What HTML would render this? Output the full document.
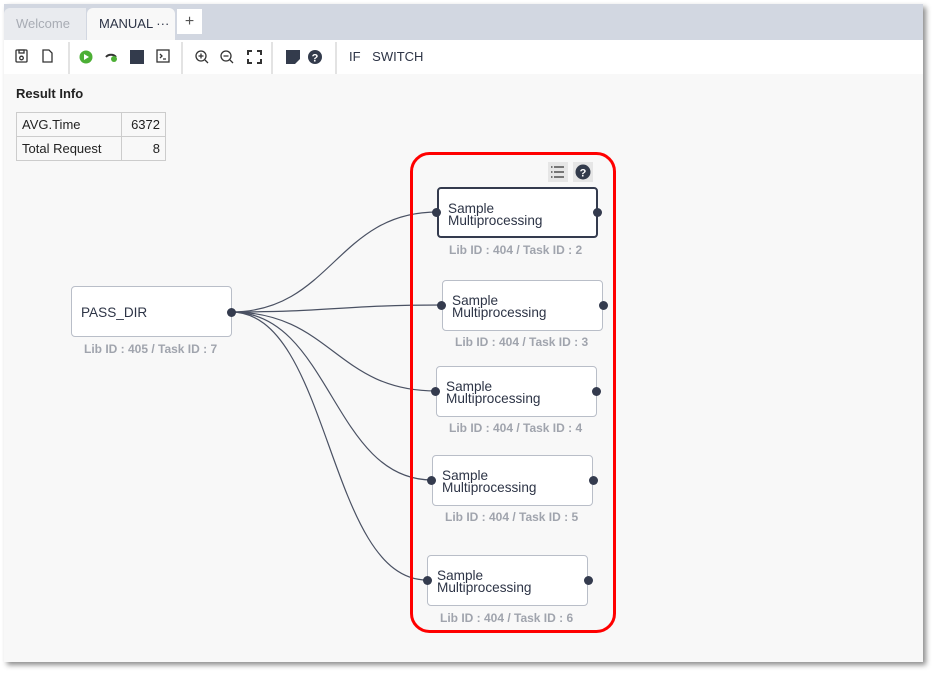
<!DOCTYPE html>
<html><head><meta charset="utf-8"><style>
*{margin:0;padding:0;box-sizing:border-box}
body{width:936px;height:675px;background:#fff;font-family:"Liberation Sans",sans-serif;position:relative;overflow:hidden}
.panel{position:absolute;left:4px;top:4px;width:919px;height:658px;background:#f8f8f8;box-shadow:3px 3px 5px rgba(0,0,0,.45)}
.tabbar{position:absolute;left:0;top:0;width:919px;height:36px;background:#d2d7e1}
.tab{position:absolute;top:4px;height:32px;font-size:13px;line-height:32px}
.toolbar{position:absolute;left:0;top:36px;width:919px;height:34px;background:#fff}
.sep{position:absolute;top:2px;width:2px;height:32px;background:#e3e3e3}
.abs{position:absolute}
.node{position:absolute;width:161px;height:51px;background:#fff;border:1px solid #b9bec8;border-radius:4px;font-size:13.6px;color:#2d3446;line-height:12px}
.lbl{position:absolute;font-size:12px;color:#a0a4ad;font-weight:bold;white-space:nowrap}
.port{position:absolute;width:9px;height:9px;border-radius:50%;background:#343b4e}
table{border-collapse:collapse;font-size:13px;color:#222}
td{border:1px solid #ccc;padding:0 5px;height:24px}
</style></head><body>
<div class="panel">
 <div class="tabbar">
  <div class="tab" style="left:0;width:82px;background:#e9ebef;color:#a8acb4;padding-left:12px;border-radius:6px 0 0 0">Welcome</div>
  <div class="tab" style="left:83px;width:88px;background:#f8f8f8;color:#2d3446;padding-left:12px;border-radius:6px 6px 0 0">MANUAL ···</div>
  <div class="tab" style="left:173px;top:5px;width:25px;height:25px;background:#fff;text-align:center;line-height:25px;color:#555;font-size:16px">+</div>
 </div>
 <div class="toolbar">
  <svg class="abs" style="left:0;top:0" width="440" height="34">
   <g fill="none" stroke="#333" stroke-width="1.3">
    <rect x="12" y="10" width="11" height="12" rx="1"/><rect x="15" y="10" width="5" height="3"/><circle cx="17.5" cy="18" r="1.8"/>
    <path d="M39 10h6l3 3v9h-9z"/>
    <circle cx="197" cy="16" r="5"/><path d="M201 20l3 3M194.5 16h5M197 13.5v5"/>
    <circle cx="222" cy="16" r="5"/><path d="M226 20l3 3M219.5 16h5"/>
    <path d="M244 15v-4h4M253 11h4v4M257 19v4h-4M248 23h-4v-4" stroke-width="2"/>
    <rect x="153" y="10" width="12" height="12"/><path d="M156 14l2 2-2 2M159 19h3"/>
   </g>
   <circle cx="82" cy="17" r="6.5" fill="#4caf35"/><path d="M80 14v6l5-3z" fill="#fff"/>
   <path d="M102 17a6 5 0 0 1 10 0" fill="none" stroke="#333" stroke-width="2"/><circle cx="110" cy="19" r="3" fill="#4caf35"/>
   <rect x="126" y="10" width="14" height="14" fill="#333b4c"/>
   <path d="M282 10h14v9l-5 5h-9z" fill="#333b4c"/>
   <circle cx="311" cy="17" r="7" fill="#333b4c"/><text x="311" y="21.5" font-size="11" font-weight="bold" fill="#fff" text-anchor="middle" font-family="Liberation Sans">?</text>
  </svg>
  <div class="sep" style="left:64px"></div><div class="sep" style="left:177px"></div><div class="sep" style="left:267px"></div><div class="sep" style="left:331px"></div>
  <div class="abs" style="left:345px;top:9px;font-size:13px;color:#2d3446;word-spacing:8px">IF SWITCH</div>
 </div>
 <div class="abs" style="left:12px;top:82px;font-size:13px;font-weight:bold;color:#222">Result Info</div>
 <table class="abs" style="left:12px;top:108px">
  <tr><td style="width:105px">AVG.Time</td><td style="width:44px;text-align:right">6372</td></tr>
  <tr><td>Total Request</td><td style="text-align:right">8</td></tr>
 </table>
</div>
<svg class="abs" style="left:0;top:0" width="936" height="675">
 <g fill="none" stroke="#4a5163" stroke-width="1.2">
  <path d="M231 312C331 312 337 212 437 212"/>
  <path d="M231 312C331 312 342 305 442 305"/>
  <path d="M231 312C331 312 336 391 436 391"/>
  <path d="M231 312C331 312 332 480 432 480"/>
  <path d="M231 312C331 312 327 580 427 580"/>
 </g>
 <rect x="411.5" y="153.5" width="203" height="478" rx="18" fill="none" stroke="#f00" stroke-width="3"/>
 <rect x="548" y="162" width="20" height="20" fill="#e6e6e6"/>
 <g stroke="#333" stroke-width="1.3"><path d="M554 167h10M554 172h10M554 177h10"/><path d="M551 167h1.5M551 172h1.5M551 177h1.5"/></g>
 <rect x="573" y="162" width="20" height="20" fill="#e6e6e6"/>
 <circle cx="583" cy="172" r="7.5" fill="#333b4c"/><text x="583" y="176.5" font-size="11" font-weight="bold" fill="#fff" text-anchor="middle" font-family="Liberation Sans">?</text>
</svg>
<div class="node" style="left:71px;top:286px;height:51px"><div class="abs" style="left:9px;top:20px">PASS_DIR</div></div>
<div class="port" style="left:227px;top:308px"></div>
<div class="lbl" style="left:84px;top:342px">Lib ID : 405 / Task ID : 7</div>

<div class="node" style="left:437px;top:187px;border:2px solid #343b4e"><div class="abs" style="left:9px;top:14px">Sample<br>Multiprocessing</div></div>
<div class="port" style="left:432px;top:208px"></div><div class="port" style="left:593px;top:208px"></div>
<div class="lbl" style="left:449px;top:243px">Lib ID : 404 / Task ID : 2</div>

<div class="node" style="left:442px;top:280px"><div class="abs" style="left:9px;top:14px">Sample<br>Multiprocessing</div></div>
<div class="port" style="left:437px;top:301px"></div><div class="port" style="left:599px;top:301px"></div>
<div class="lbl" style="left:455px;top:335px">Lib ID : 404 / Task ID : 3</div>

<div class="node" style="left:436px;top:366px"><div class="abs" style="left:9px;top:14px">Sample<br>Multiprocessing</div></div>
<div class="port" style="left:431px;top:387px"></div><div class="port" style="left:592px;top:387px"></div>
<div class="lbl" style="left:449px;top:421px">Lib ID : 404 / Task ID : 4</div>

<div class="node" style="left:432px;top:455px"><div class="abs" style="left:9px;top:14px">Sample<br>Multiprocessing</div></div>
<div class="port" style="left:427px;top:476px"></div><div class="port" style="left:589px;top:476px"></div>
<div class="lbl" style="left:445px;top:510px">Lib ID : 404 / Task ID : 5</div>

<div class="node" style="left:427px;top:555px"><div class="abs" style="left:9px;top:14px">Sample<br>Multiprocessing</div></div>
<div class="port" style="left:423px;top:576px"></div><div class="port" style="left:584px;top:576px"></div>
<div class="lbl" style="left:440px;top:611px">Lib ID : 404 / Task ID : 6</div>
</body></html>
